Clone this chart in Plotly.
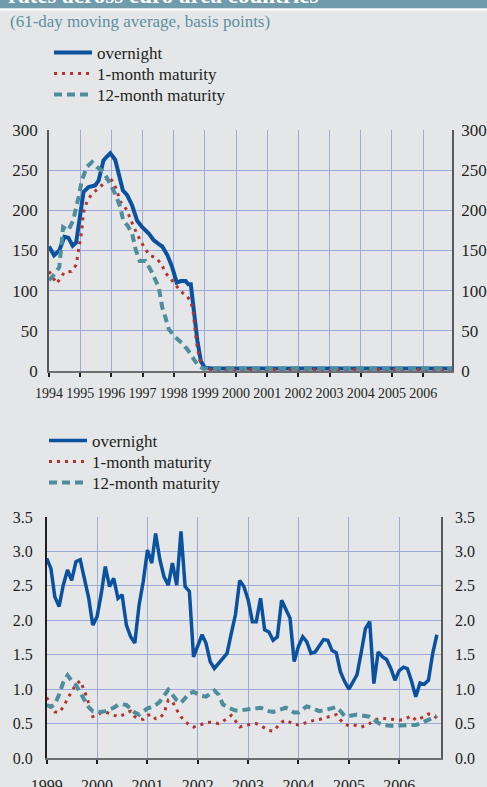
import plotly.graph_objects as go

# ---------------- data ----------------
# Top panel (basis points, 1994-2006)
top_on_dates = ["1994-01-01", "1994-03-01", "1994-05-01", "1994-07-01", "1994-08-15", "1994-10-05",
                "1994-11-15", "1995-01-01", "1995-02-10", "1995-04-10", "1995-06-25", "1995-08-05",
                "1995-10-01", "1995-11-10", "1995-12-20", "1996-02-15", "1996-03-28", "1996-05-15",
                "1996-07-05", "1996-09-01", "1996-10-30", "1996-12-28", "1997-03-15", "1997-05-10",
                "1997-07-10", "1997-08-20", "1997-10-20", "1997-12-15", "1998-02-05", "1998-03-25",
                "1998-05-20", "1998-06-20", "1998-07-20", "1998-08-25", "1998-10-05", "1998-11-15",
                "1999-01-01", "1999-04-01", "1999-07-01", "2000-01-01", "2000-07-01", "2001-01-01",
                "2001-07-01", "2002-01-01", "2002-07-01", "2003-01-01", "2003-07-01", "2004-01-01",
                "2004-07-01", "2005-01-01", "2005-07-01", "2006-01-01", "2006-07-01", "2006-12-05"]
top_on_vals = [155, 144, 150, 167, 166, 156,
               160, 191, 223, 229, 231, 237,
               262, 267, 271, 263, 244, 225,
               219, 206, 187, 179, 171, 163,
               158, 155, 144, 129, 110, 112,
               112, 108, 108, 71, 38, 12,
               4, 3, 3, 3, 4, 4,
               4, 3, 3, 4, 3, 3,
               3, 3, 3, 3, 3, 3]

top_1m_dates = ["1994-01-01", "1994-04-01", "1994-07-01", "1994-09-20", "1994-11-15", "1994-12-05",
                "1995-01-01", "1995-01-20", "1995-02-05", "1995-02-25", "1995-04-05", "1995-05-25",
                "1995-08-01", "1995-10-01", "1995-12-01", "1996-01-25", "1996-03-01", "1996-04-15",
                "1996-07-05", "1996-08-10", "1996-09-20", "1996-10-25", "1996-12-10", "1997-01-25",
                "1997-03-25", "1997-06-20", "1997-08-20", "1997-09-25", "1997-11-25", "1998-01-20",
                "1998-03-25", "1998-06-10", "1998-07-25", "1998-08-15", "1998-09-05", "1998-09-25",
                "1998-10-30", "1998-12-10", "1999-03-01", "2000-01-01", "2001-01-01", "2002-01-01",
                "2003-01-01", "2004-01-01", "2005-01-01", "2006-01-01", "2006-12-05"]
top_1m_vals = [124, 109, 123, 124, 132, 144,
               162, 175, 194, 204, 214, 221,
               227, 233, 242, 235, 226, 211,
               200, 189, 180, 171, 162, 153,
               144, 140, 131, 122, 115, 107,
               99, 93, 85, 75, 54, 35,
               15, 3, 2, 2, 2, 2,
               2, 2, 2, 2, 2]

top_12m_dates = ["1994-01-01", "1994-03-10", "1994-05-01", "1994-06-15", "1994-08-15", "1994-10-10",
                 "1994-12-15", "1995-01-20", "1995-03-20", "1995-05-20", "1995-07-15", "1995-10-01",
                 "1995-12-20", "1996-03-01", "1996-04-15", "1996-05-20", "1996-07-10", "1996-09-01",
                 "1996-10-10", "1996-11-28", "1997-02-05", "1997-04-20", "1997-07-10", "1997-08-20",
                 "1997-09-25", "1997-11-05", "1998-01-20", "1998-04-05", "1998-06-10", "1998-08-05",
                 "1998-10-05", "1998-12-10", "1999-06-01", "2000-06-01", "2001-06-01", "2002-06-01",
                 "2003-06-01", "2004-06-01", "2005-06-01", "2006-06-01", "2006-12-05"]
top_12m_vals = [113, 121, 129, 179, 175, 187,
                217, 237, 254, 260, 254, 248,
                233, 217, 204, 187, 181, 171,
                152, 137, 137, 123, 104, 79,
                67, 52, 42, 35, 27, 17,
                8, 3, 3, 3, 3, 3,
                3, 3, 3, 3, 3]

# Bottom panel (monthly, Jan 1999 - Oct 2006)
bot_dates = [f"{1999 + i // 12}-{i % 12 + 1:02d}-01" for i in range(94)]
bot_on = [2.90, 2.75, 2.34, 2.20, 2.51, 2.73, 2.58, 2.85, 2.88, 2.62, 2.33, 1.93,
          2.05, 2.39, 2.78, 2.49, 2.61, 2.32, 2.37, 1.93, 1.76, 1.67, 2.22, 2.56,
          3.02, 2.83, 3.26, 2.88, 2.63, 2.51, 2.83, 2.51, 3.29, 2.49, 2.42, 1.47,
          1.64, 1.79, 1.67, 1.40, 1.30, 1.37, 1.45, 1.52, 1.81, 2.08, 2.58, 2.49,
          2.30, 1.98, 1.98, 2.32, 1.86, 1.83, 1.71, 1.76, 2.29, 2.17, 2.03, 1.40,
          1.62, 1.76, 1.69, 1.52, 1.54, 1.63, 1.72, 1.71, 1.56, 1.53, 1.25, 1.11,
          1.00, 1.11, 1.21, 1.54, 1.88, 1.98, 1.08, 1.54, 1.47, 1.43, 1.30, 1.13,
          1.27, 1.32, 1.30, 1.11, 0.89, 1.09, 1.07, 1.13, 1.52, 1.79]
bot_1m = [0.88, 0.78, 0.67, 0.66, 0.74, 0.86, 0.96, 1.07, 1.12, 0.98, 0.80, 0.60,
          0.62, 0.66, 0.67, 0.65, 0.63, 0.60, 0.62, 0.65, 0.68, 0.60, 0.57, 0.56,
          0.62, 0.63, 0.57, 0.58, 0.65, 0.84, 0.82, 0.70, 0.60, 0.53, 0.48, 0.45,
          0.47, 0.50, 0.51, 0.52, 0.51, 0.50, 0.53, 0.58, 0.62, 0.54, 0.45, 0.47,
          0.48, 0.50, 0.50, 0.47, 0.43, 0.40, 0.39, 0.46, 0.52, 0.55, 0.52, 0.49,
          0.48, 0.49, 0.52, 0.54, 0.55, 0.56, 0.58, 0.59, 0.61, 0.63, 0.55, 0.49,
          0.47, 0.48, 0.47, 0.45, 0.47, 0.50, 0.55, 0.57, 0.58, 0.57, 0.56, 0.55,
          0.55, 0.56, 0.58, 0.61, 0.55, 0.57, 0.60, 0.64, 0.63, 0.58]
bot_12m = [0.77, 0.74, 0.78, 0.92, 1.10, 1.20, 1.12, 1.06, 0.95, 0.85, 0.74, 0.68,
           0.67, 0.67, 0.68, 0.70, 0.73, 0.77, 0.78, 0.77, 0.72, 0.66, 0.63, 0.67,
           0.72, 0.74, 0.77, 0.82, 0.90, 0.99, 0.92, 0.84, 0.80, 0.87, 0.94, 0.96,
           0.93, 0.90, 0.89, 0.93, 0.98, 0.92, 0.78, 0.74, 0.71, 0.69, 0.69, 0.70,
           0.71, 0.72, 0.73, 0.73, 0.71, 0.68, 0.67, 0.69, 0.72, 0.73, 0.70, 0.66,
           0.66, 0.70, 0.75, 0.73, 0.70, 0.68, 0.69, 0.71, 0.73, 0.74, 0.68, 0.61,
           0.61, 0.62, 0.63, 0.62, 0.61, 0.60, 0.56, 0.51, 0.48, 0.47, 0.47, 0.47,
           0.47, 0.47, 0.47, 0.47, 0.48, 0.50, 0.53, 0.56, 0.59, 0.61]

series_names = ["overnight", "1-month maturity", "12-month maturity"]
top_yticks = [0, 50, 100, 150, 200, 250, 300]
bot_yticks = [0.0, 0.5, 1.0, 1.5, 2.0, 2.5, 3.0, 3.5]

# ---------------- styling ----------------
W, H = 487, 787
BG = "#e5e6e8"
GRID = "#9eaad8"
TXT = "#231f20"
C_ON = "#0a52a0"
C_1M = "#b3342f"
C_12M = "#4d8d9c"
FONT = "Liberation Serif"
LEG_FONT = dict(size=17, family=FONT, color=TXT)


def px_x(p):
    return p / W


def px_y(p):
    return 1 - p / H


styles = [dict(color=C_ON, width=4),
          dict(color=C_1M, width=3, dash="3px,5px"),
          dict(color=C_12M, width=4, dash="8px,5px")]
bot_styles = [dict(color=C_ON, width=3.5),
              dict(color=C_1M, width=3, dash="3px,5px"),
              dict(color=C_12M, width=4, dash="8px,5px")]

fig = go.Figure()

top_series = [(top_on_dates, top_on_vals), (top_1m_dates, top_1m_vals), (top_12m_dates, top_12m_vals)]
for i, (xs, ys) in enumerate(top_series):
    fig.add_trace(go.Scatter(x=xs, y=ys, name=series_names[i], mode="lines", line=styles[i],
                             xaxis="x", yaxis="y", legend="legend" if i == 0 else f"legend{i + 1}"))
fig.add_trace(go.Scatter(x=top_on_dates, y=top_on_vals, mode="lines", opacity=0, showlegend=False,
                         hoverinfo="skip", xaxis="x", yaxis="y3"))

bot_series = [bot_on, bot_1m, bot_12m]
for i, ys in enumerate(bot_series):
    fig.add_trace(go.Scatter(x=bot_dates, y=ys, name=series_names[i], mode="lines", line=bot_styles[i],
                             xaxis="x2", yaxis="y2", legend=f"legend{i + 4}"))
fig.add_trace(go.Scatter(x=bot_dates, y=bot_on, mode="lines", opacity=0, showlegend=False,
                         hoverinfo="skip", xaxis="x2", yaxis="y4"))

axis_font = dict(family=FONT, color=TXT)


def leg(xp, yp):
    return dict(x=px_x(xp), y=px_y(yp), xanchor="left", yanchor="middle",
                bgcolor="rgba(0,0,0,0)", borderwidth=0, font=LEG_FONT, itemwidth=38)


top_rows = [53, 74, 95]
bot_rows = [441, 462, 483]

fig.update_layout(
    width=W, height=H,
    margin=dict(l=0, r=0, t=0, b=0, autoexpand=False),
    paper_bgcolor=BG, plot_bgcolor=BG,
    font=dict(family=FONT, color=TXT, size=16),
    showlegend=True,
    xaxis=dict(domain=[px_x(49), px_x(452)], anchor="y", type="date", automargin=False,
               range=["1994-01-01", "2006-12-05"], dtick="M12", tick0="1994-01-01",
               tickformat="%Y", tickangle=0, showgrid=True, gridcolor=GRID, gridwidth=1,
               showline=True, linecolor="#6d6e71", linewidth=1.5,
               ticks="outside", ticklen=4, tickcolor="#231f20", tickwidth=1.5,
               tickfont=dict(size=14, **axis_font), ticklabelstandoff=4, zeroline=False),
    yaxis=dict(domain=[px_y(371), px_y(130)], anchor="x", range=[0, 300], automargin=False,
               tickvals=top_yticks, showgrid=True, gridcolor=GRID, gridwidth=1,
               showline=True, linecolor="#58595b", linewidth=1.5, zeroline=False,
               ticks="", tickfont=dict(size=17, **axis_font), ticklabelstandoff=6),
    yaxis3=dict(overlaying="y", side="right", anchor="x", range=[0, 300], automargin=False,
                tickvals=top_yticks, showgrid=False, zeroline=False,
                showline=True, linecolor="#58595b", linewidth=1.5,
                ticks="", tickfont=dict(size=17, **axis_font), ticklabelstandoff=4),
    xaxis2=dict(domain=[px_x(46.7), px_x(441)], anchor="y2", type="date", automargin=False,
                range=["1999-01-01", "2006-10-31"], dtick="M12", tick0="1999-01-01",
                tickformat="%Y", tickangle=0, showgrid=True, gridcolor=GRID, gridwidth=1,
                showline=True, linecolor="#6d6e71", linewidth=1.5,
                ticks="outside", ticklen=4, tickcolor="#231f20", tickwidth=1.5,
                tickfont=dict(size=16, **axis_font), ticklabelstandoff=8, zeroline=False),
    yaxis2=dict(domain=[px_y(758), px_y(517)], anchor="x2", range=[0, 3.5], automargin=False,
                tickvals=bot_yticks, tickformat=".1f", showgrid=True, gridcolor=GRID, gridwidth=1,
                showline=True, linecolor="#231f20", linewidth=1.5, zeroline=False,
                ticks="", tickfont=dict(size=16, **axis_font), ticklabelstandoff=9),
    yaxis4=dict(overlaying="y2", side="right", anchor="x2", range=[0, 3.5], automargin=False,
                tickvals=bot_yticks, tickformat=".1f", showgrid=False, zeroline=False,
                showline=True, linecolor="#58595b", linewidth=1.5,
                ticks="", tickfont=dict(size=16, **axis_font), ticklabelstandoff=9),
    legend=leg(49, top_rows[0]),
    legend2=leg(49, top_rows[1]),
    legend3=leg(49, top_rows[2]),
    legend4=leg(44, bot_rows[0]),
    legend5=leg(44, bot_rows[1]),
    legend6=leg(44, bot_rows[2]),
    shapes=[
        dict(type="rect", xref="paper", yref="paper", x0=0, x1=1, y0=px_y(8.5), y1=1,
             fillcolor="#6f9bab", line=dict(width=0), layer="above"),
        dict(type="rect", xref="paper", yref="paper", x0=0, x1=1, y0=px_y(10.5), y1=px_y(8.5),
             fillcolor="#ffffff", line=dict(width=0), layer="above"),
    ],
    annotations=[
        dict(text="<b>rates across euro area countries</b>", xref="paper", yref="paper",
             x=px_x(6), y=px_y(10), xanchor="left", yanchor="bottom", showarrow=False,
             font=dict(family=FONT, size=23, color="#ffffff")),
        dict(text="(61-day moving average, basis points)", xref="paper", yref="paper",
             x=px_x(8), y=px_y(21), xanchor="left", yanchor="middle", showarrow=False,
             font=dict(family=FONT, size=17, color="#5c90a2")),
    ],
)

fig.write_html(
    "out.html",
    config={"displayModeBar": False},
    post_script="document.body.style.margin='0';"
                "document.body.style.background='#e5e6e8';"
                "document.documentElement.style.overflow='hidden';",
)
